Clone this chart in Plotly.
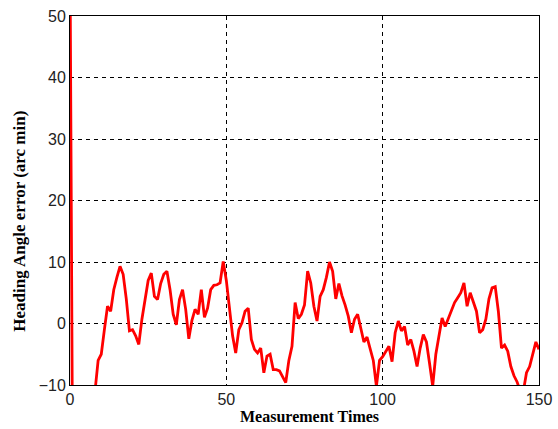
import plotly.graph_objects as go

measurement_times = list(range(0, 151))
heading_error = [
    60, -40, -35, -30, -25, -20, -17, -14, -11, -6,
    -5, -1, 2.8, 2.0, 5.5, 7.5, 9.3, 8.0, 4.0, -1.2,
    -1.0, -2.0, -3.4, 0.7, 4.0, 7.0, 8.2, 4.4, 3.9, 6.5,
    8.0, 8.5, 5.5, 1.5, -0.2, 3.9, 5.5, 2.3, -2.5, 0.5,
    2.3, 1.5, 5.5, 1.0, 2.5, 5.5, 6.2, 6.3, 6.6, 10.1,
    7.0, 2.8, -2.0, -4.8, -1.0, 0.1, 2.0, 2.5, -2.6, -4.2,
    -4.8, -4.0, -8.0, -5.3, -5.0, -7.5, -7.5, -7.7, -8.6, -9.6,
    -6.0, -3.7, 3.4, 0.8, 1.5, 3.0, 8.5, 6.6, 2.8, 0.4,
    4.4, 5.5, 7.5, 10.0, 8.5, 4.0, 6.5, 4.5, 3.0, 1.2,
    -1.5, 0.7, 1.5, -1.0, -3.0, -2.2, -4.0, -6.0, -10.2, -6.0,
    -5.4, -4.5, -3.7, -6.2, -1.5, 0.4, -1.2, -0.5, -3.5, -2.6,
    -4.5, -7.0, -4.0, -1.8, -3.0, -6.5, -10.2, -5.0, -2.0, 0.9,
    -0.5, 0.8, 2.3, 3.4, 4.2, 5.0, 6.6, 2.8, 5.0, 3.6,
    2.0, -1.5, -1.0, 0.7, 4.0, 5.8, 6.0, 2.0, -4.0, -3.5,
    -4.5, -7.0, -8.5, -9.5, -11.0, -11.0, -8.0, -7.0, -5.0, -3.0,
    -4.2,
]
x_ticks = [0, 50, 100, 150]
y_ticks = [-10, 0, 10, 20, 30, 40, 50]
x_title = "Measurement Times"
y_title = "Heading Angle error (arc min)"

fig = go.Figure()
fig.add_trace(go.Scatter(
    x=measurement_times, y=heading_error, mode="lines",
    line=dict(color="#ff0000", width=2.8), showlegend=False,
))

axis_common = dict(
    showline=True, linecolor="black", linewidth=1, mirror=True,
    showgrid=True, gridcolor="black", gridwidth=1, griddash="4px,4px",
    zeroline=False, ticks="", automargin=False,
    tickfont=dict(family="Liberation Sans", size=16, color="#222"),
)
fig.update_xaxes(range=[0, 150], tickvals=x_ticks, **axis_common)
fig.update_yaxes(range=[-10, 50], tickvals=y_ticks, **axis_common)

title_font = dict(family="Liberation Serif", color="black")
fig.add_annotation(
    text="<b>" + x_title + "</b>", xref="paper", yref="paper",
    x=0.5096, y=-0.0867, xanchor="center", yanchor="middle",
    showarrow=False, font=dict(size=16, **title_font),
)
fig.add_annotation(
    text="<b>" + y_title + "</b>", xref="paper", yref="paper",
    x=-0.1077, y=0.444, xanchor="center", yanchor="middle", textangle=-90,
    showarrow=False, font=dict(size=17, **title_font),
)
fig.update_layout(
    width=558, height=429,
    margin=dict(l=70, r=19, t=16, b=44),
    paper_bgcolor="white", plot_bgcolor="white",
)
fig.write_html(
    "out.html",
    config={"displayModeBar": False},
    post_script="document.body.style.margin='0';",
)
